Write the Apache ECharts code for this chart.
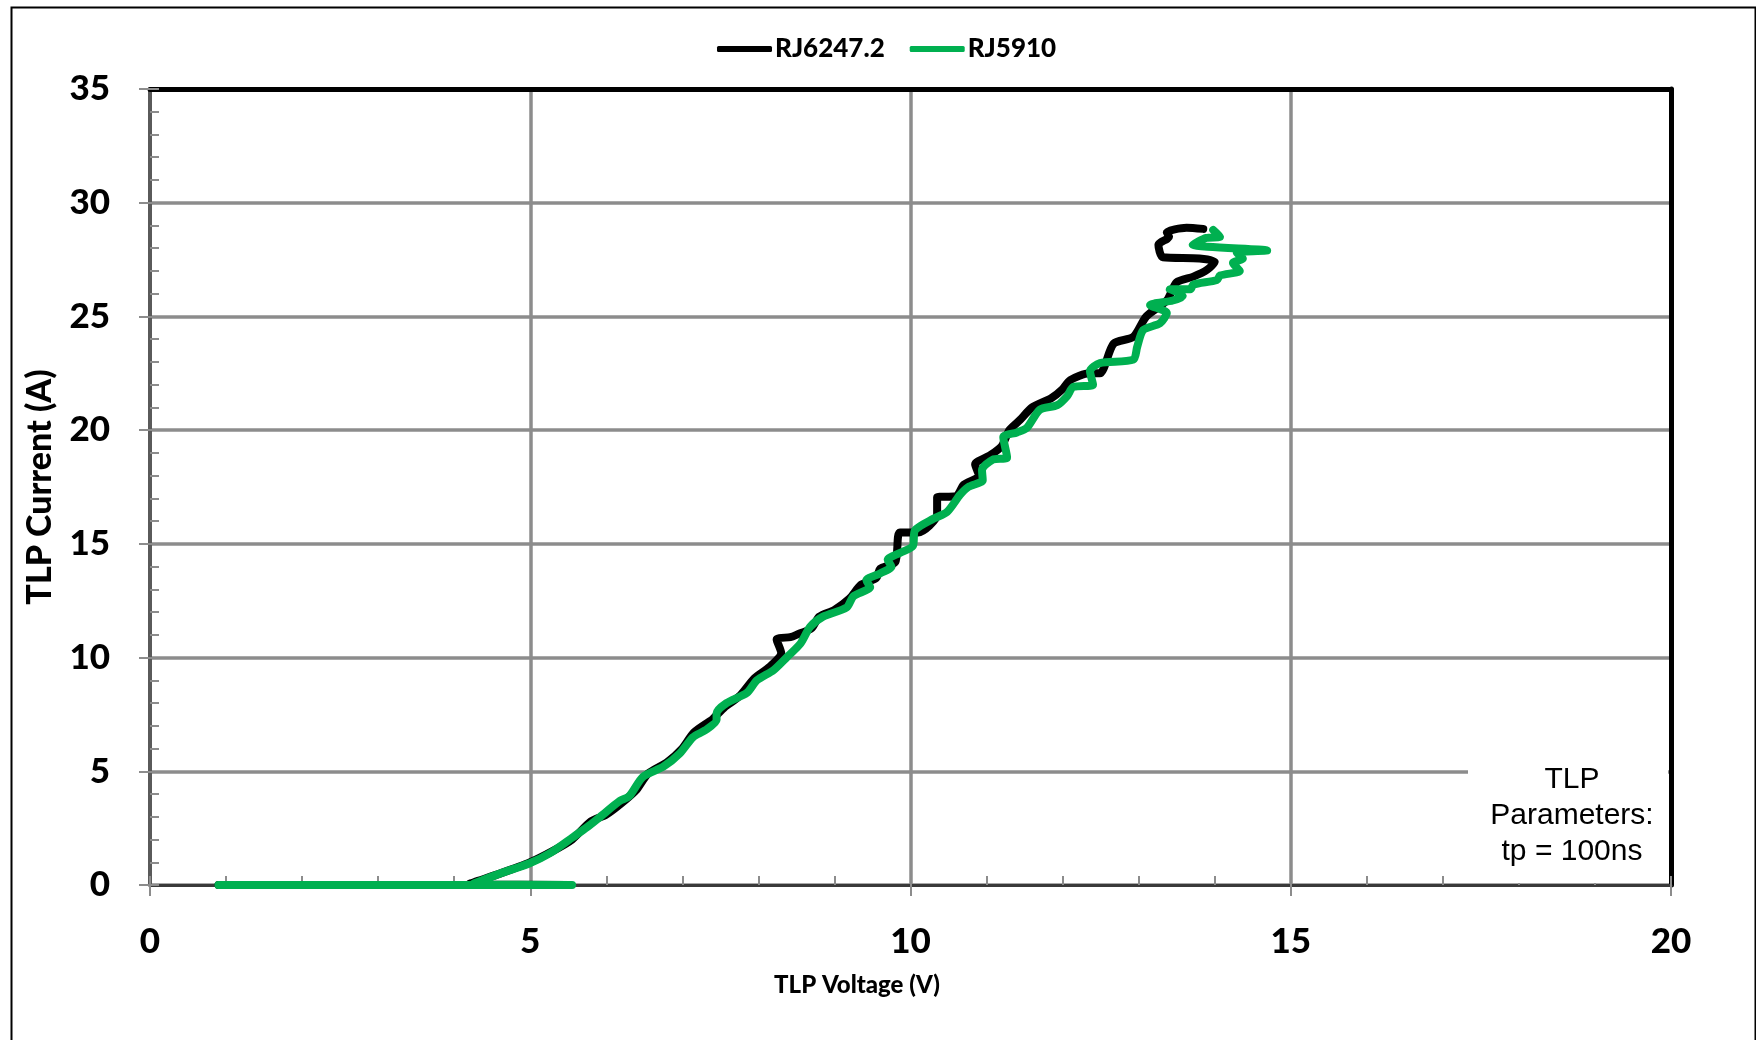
<!DOCTYPE html>
<html>
<head>
<meta charset="utf-8">
<script src="https://cdn.jsdelivr.net/npm/echarts@6/dist/echarts.min.js"></script>
<style>
html,body{margin:0;padding:0;background:#fff;}
#chart{width:1756px;height:1040px;}
</style>
</head>
<body>
<div id="chart"></div>
<script>
// Series names
const seriesNames = ['RJ6247.2', 'RJ5910'];

// RJ6247.2 : [TLP Voltage (V), TLP Current (A)]
const rj6247 = [
  [0.9,0],[2.0,0],[3.0,0],[4.0,0],[5.5,0],[4.2,0.05],[4.6,0.5],[5.0,1.0],[5.3,1.5],[5.55,2.0],
  [5.8,2.8],[6.0,3.1],[6.2,3.6],[6.4,4.2],[6.55,4.9],[6.8,5.4],[7.0,6.0],[7.15,6.7],[7.4,7.3],
  [7.55,7.8],[7.75,8.3],[7.95,9.1],[8.15,9.6],[8.3,10.2],[8.24,10.8],[8.42,10.9],[8.5,11.0],
  [8.7,11.3],[8.8,11.8],[9.0,12.1],[9.2,12.6],[9.35,13.2],[9.55,13.5],[9.6,13.9],[9.8,14.2],
  [9.86,15.5],[10.1,15.5],[10.25,15.8],[10.35,16.3],[10.35,17.05],[10.6,17.1],[10.7,17.6],
  [10.9,18.0],[10.85,18.5],[11.05,18.9],[11.2,19.3],[11.3,20.0],[11.44,20.45],[11.6,21.0],
  [11.85,21.4],[12.0,21.8],[12.1,22.2],[12.35,22.5],[12.49,22.5],[12.67,23.8],[12.93,24.1],
  [13.1,25.0],[13.37,25.7],[13.5,26.5],[13.72,26.75],[13.9,27.05],[14.0,27.4],[13.8,27.55],
  [13.32,27.6],[13.26,28.15],[13.4,28.5],[13.37,28.7],[13.63,28.9],[13.85,28.85]
];

// RJ5910 : [TLP Voltage (V), TLP Current (A)]
const rj5910 = [
  [0.9,0],[1.5,0],[2.5,0],[3.5,0],[4.5,0],[5.55,0],[4.25,0.05],[4.6,0.5],[5.0,0.97],[5.26,1.4],
  [5.56,2.1],[5.75,2.55],[5.92,3.0],[6.18,3.7],[6.3,3.9],[6.48,4.75],[6.75,5.2],[6.97,5.8],
  [7.14,6.5],[7.3,6.8],[7.45,7.25],[7.45,7.55],[7.58,8.0],[7.85,8.45],[7.98,9.0],[8.2,9.45],
  [8.37,10.0],[8.55,10.6],[8.68,11.35],[8.85,11.8],[9.16,12.2],[9.25,12.7],[9.47,13.1],
  [9.42,13.4],[9.6,13.7],[9.75,14.0],[9.7,14.3],[9.86,14.6],[10.03,14.9],[10.06,15.6],
  [10.3,16.1],[10.48,16.4],[10.65,17.15],[10.76,17.5],[10.95,17.8],[10.94,18.25],[11.08,18.7],
  [11.27,18.8],[11.22,19.7],[11.4,19.9],[11.53,20.1],[11.7,20.9],[11.93,21.1],[12.06,21.5],
  [12.14,21.9],[12.4,22.0],[12.36,22.6],[12.49,22.95],[12.93,23.1],[12.98,23.65],[13.06,24.4],
  [13.28,24.7],[13.37,25.15],[13.15,25.5],[13.45,25.7],[13.58,25.9],[13.41,26.2],[13.68,26.2],
  [13.72,26.4],[14.03,26.6],[14.07,26.8],[14.33,27.0],[14.24,27.35],[14.37,27.55],[14.29,27.8],
  [14.69,27.9],[13.71,28.15],[13.89,28.45],[14.07,28.5],[13.98,28.8]
];

// Axis ranges / ticks
const xRange = {min: 0, max: 20, major: 5, minor: 1};
const yRange = {min: 0, max: 35, major: 5, minor: 1};
const xTitle = 'TLP Voltage (V)';
const yTitle = 'TLP Current (A)';
const noteLines = ['TLP', 'Parameters:', 'tp = 100ns'];

const FONT = 'Lato, "Open Sans", sans-serif';
const NOTE_FONT = '30px "Liberation Sans", Arial, sans-serif';
const chart = echarts.init(document.getElementById('chart'), null, {renderer: 'canvas'});

const gridL = 150, gridR = 85, gridT = 89, gridB = 155;

function hiddenAxisBase(extra) {
  return Object.assign({
    type: 'value',
    axisLabel: {show: false},
    splitLine: {show: false},
    axisTick: {show: false},
    axisLine: {show: false}
  }, extra);
}

const option = {
  backgroundColor: '#fff',
  animation: false,
  grid: {left: gridL, right: gridR, top: gridT, bottom: gridB, containLabel: false},
  legend: {
    data: seriesNames,
    left: 712,
    top: 31,
    icon: 'roundRect',
    itemWidth: 55,
    itemHeight: 6,
    itemGap: 25,
    textStyle: {fontFamily: FONT, fontWeight: 900, fontSize: 26, color: '#000', padding: [0, 0, 0, -2]}
  },
  xAxis: [
    {
      type: 'value', min: xRange.min, max: xRange.max, interval: xRange.major, position: 'bottom',
      axisLine: {show: true, onZero: false, lineStyle: {color: '#3a3a3a', width: 3}},
      axisTick: {show: true, inside: false, length: 11, lineStyle: {color: '#8c8c8c', width: 2}},
      axisLabel: {show: true, margin: 39, fontFamily: FONT, fontWeight: 900, fontSize: 35, color: '#000'},
      splitLine: {show: true, lineStyle: {color: '#8c8c8c', width: 3.5}}
    },
    hiddenAxisBase({
      min: xRange.min, max: xRange.max, interval: xRange.minor, position: 'bottom',
      axisTick: {show: true, inside: true, length: 9, lineStyle: {color: '#8c8c8c', width: 2}}
    }),
    hiddenAxisBase({
      min: xRange.min, max: xRange.max, interval: xRange.major, position: 'top',
      axisLine: {show: true, onZero: false, lineStyle: {color: '#000', width: 5}}
    })
  ],
  yAxis: [
    {
      type: 'value', min: yRange.min, max: yRange.max, interval: yRange.major, position: 'left',
      name: yTitle, nameLocation: 'middle', nameGap: 93, nameRotate: 90,
      nameTextStyle: {fontFamily: FONT, fontWeight: 900, fontSize: 34, color: '#000'},
      axisLine: {show: true, onZero: false, lineStyle: {color: '#5a5a5a', width: 4}},
      axisTick: {show: true, inside: false, length: 11, lineStyle: {color: '#8c8c8c', width: 2}},
      axisLabel: {show: true, margin: 40, fontFamily: FONT, fontWeight: 900, fontSize: 35, color: '#000'},
      splitLine: {show: true, lineStyle: {color: '#8c8c8c', width: 3.5}}
    },
    hiddenAxisBase({
      min: yRange.min, max: yRange.max, interval: yRange.minor, position: 'left',
      axisTick: {show: true, inside: true, length: 9, lineStyle: {color: '#8c8c8c', width: 2}}
    }),
    hiddenAxisBase({
      min: yRange.min, max: yRange.max, interval: yRange.major, position: 'right',
      axisLine: {show: true, onZero: false, lineStyle: {color: '#000', width: 5}}
    })
  ],
  series: [
    {
      name: seriesNames[0], type: 'line', data: rj6247, xAxisIndex: 0, yAxisIndex: 0,
      showSymbol: false, symbol: 'none', smooth: 0.25, color: '#000',
      lineStyle: {color: '#000', width: 8, cap: 'round', join: 'round'}, z: 3
    },
    {
      name: seriesNames[1], type: 'line', data: rj5910, xAxisIndex: 0, yAxisIndex: 0,
      showSymbol: false, symbol: 'none', smooth: 0.25, color: '#00B050',
      lineStyle: {color: '#00B050', width: 8, cap: 'round', join: 'round'}, z: 4
    }
  ],
  graphic: [
    {type: 'rect', left: 9, top: 5, shape: {width: 1744, height: 1060}, style: {fill: 'none', stroke: '#000', lineWidth: 2}, z: 0, silent: true},
    {type: 'rect', left: 1468, top: 756, shape: {width: 200, height: 127}, style: {fill: '#fff'}, z: 50},
    {type: 'text', style: {text: noteLines[0], x: 1572, y: 780, align: 'center', verticalAlign: 'middle', font: NOTE_FONT, fill: '#000'}, z: 51},
    {type: 'text', style: {text: noteLines[1], x: 1572, y: 816, align: 'center', verticalAlign: 'middle', font: NOTE_FONT, fill: '#000'}, z: 51},
    {type: 'text', style: {text: noteLines[2], x: 1572, y: 852, align: 'center', verticalAlign: 'middle', font: NOTE_FONT, fill: '#000'}, z: 51},
    {type: 'text', style: {text: xTitle, x: 857, y: 985, align: 'center', verticalAlign: 'middle', font: '900 24px Lato, "Open Sans", sans-serif', fill: '#000'}, z: 51}
  ]
};
chart.setOption(option);
</script>
</body>
</html>
